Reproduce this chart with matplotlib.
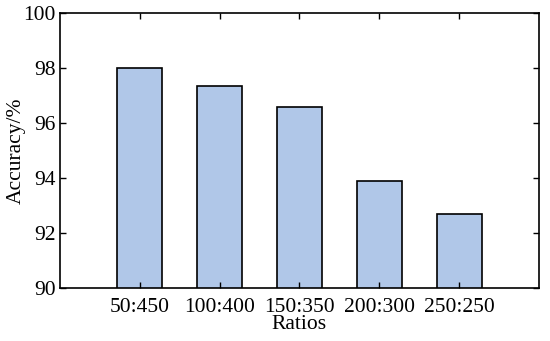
import matplotlib.pyplot as plt

# Data
ratios = ["50:450", "100:400", "150:350", "200:300", "250:250"]
accuracy = [98.01, 97.36, 96.57, 93.90, 92.70]
positions = [1, 2, 3, 4, 5]

plt.rcParams["font.family"] = ["Liberation Serif", "DejaVu Serif"]
plt.rcParams["font.size"] = 15.5

fig = plt.figure(figsize=(5.5, 3.41), dpi=100)
ax = fig.add_axes([0.109, 0.155, 0.871, 0.807])

ax.bar(positions, accuracy, width=0.56, color=(0.69, 0.78, 0.91),
       edgecolor="black", linewidth=1.2)

ax.set_xlim(0, 6)
ax.set_ylim(90, 100)
ax.set_xticks(positions)
ax.set_xticklabels(ratios)
ax.set_yticks([90, 92, 94, 96, 98, 100])
ax.tick_params(direction="in", top=True, right=True, length=4, width=1, pad=3)
ax.tick_params(axis="x", pad=7)
for s in ax.spines.values():
    s.set_linewidth(1.2)

ax.set_xlabel("Ratios", labelpad=-1)
ax.set_ylabel("Accuracy/%", labelpad=-2)

plt.savefig("out.png", dpi=100)
